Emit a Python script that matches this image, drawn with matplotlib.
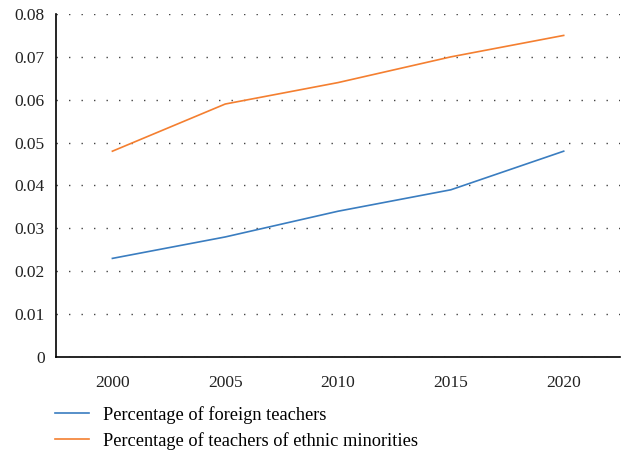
import matplotlib.pyplot as plt

plt.rcParams['font.family'] = ['Liberation Serif', 'DejaVu Serif']

# ---------- DATA ---------- #

years = ["2000", "2005", "2010", "2015", "2020"]
foreign = [0.023, 0.028, 0.034, 0.039, 0.048]
minorities = [0.048, 0.059, 0.064, 0.070, 0.075]
yticks = [0, 0.01, 0.02, 0.03, 0.04, 0.05, 0.06, 0.07, 0.08]
ylabels = ["0", "0.01", "0.02", "0.03", "0.04", "0.05", "0.06", "0.07", "0.08"]


# ---------- PLOT ---------- #

fig = plt.figure(figsize=(6.27, 4.51), dpi=100)
ax = fig.add_axes([0.0893, 0.2084, 0.8997, 0.7606])

x = range(len(years))
ax.plot(x, foreign, color="#3a7dc0", linewidth=1.2, label="Percentage of foreign teachers")
ax.plot(x, minorities, color="#f47f30", linewidth=1.2, label="Percentage of teachers of ethnic minorities")

ax.set_xlim(-0.5, len(years) - 0.5)
ax.set_ylim(0, 0.08)
ax.set_xticks(list(x))
ax.set_xticklabels(years)
ax.set_yticks(yticks)
ax.set_yticklabels(ylabels)
ax.tick_params(length=0, labelsize=12.5, colors="#222222")
ax.tick_params(axis="x", pad=13)
ax.tick_params(axis="y", pad=8)

for side in ["top", "right"]:
    ax.spines[side].set_visible(False)
ax.spines["left"].set_linewidth(1.2)
ax.spines["bottom"].set_linewidth(1.2)

ax.yaxis.grid(True, linestyle=(0, (1, 8)), color="#444444", linewidth=1.0)
ax.set_axisbelow(True)

fig.legend(loc="upper left", bbox_to_anchor=(0.087, 0.1), frameon=False,
           fontsize=13.2, handlelength=1.9, handletextpad=0.75, labelspacing=0.45,
           borderaxespad=0, borderpad=0)

plt.savefig("out.png", dpi=100)
